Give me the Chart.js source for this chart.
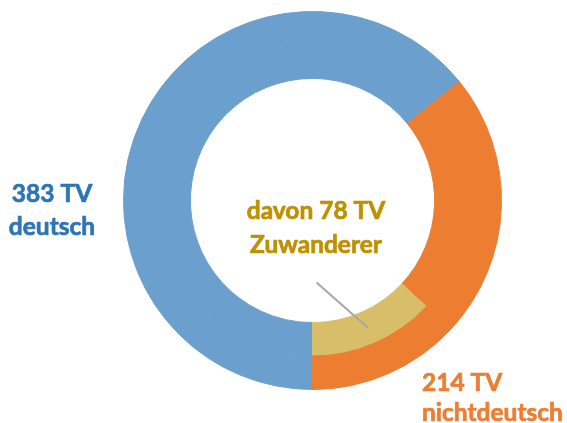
<!DOCTYPE html>
<html>
<head>
<meta charset="utf-8">
<script src="https://cdn.jsdelivr.net/npm/chart.js@4"></script>
<style>
html,body{margin:0;padding:0;background:#fff;}
#c{display:block;}
</style>
</head>
<body>
<canvas id="c" width="567" height="423"></canvas>
<script>
// Data
const categories = ["deutsch", "nichtdeutsch (ohne Zuwanderer)", "Zuwanderer"];
const outerValues = [383, 136, 78];   // outer ring: 383 deutsch, 214 nichtdeutsch (136 + 78)
const innerValues = [383, 136, 78];   // inner ring: same split, Zuwanderer highlighted
const outerColors = ["#6A9FCE", "#ED7D31", "#ED7D31"];
const innerColors = ["#6A9FCE", "#ED7D31", "#D8BE68"];
const labelDeutsch = ["383 TV", "deutsch"];
const labelZuwanderer = ["davon 78 TV", "Zuwanderer"];
const labelNichtdeutsch = ["214 TV", "nichtdeutsch"];

const FONT = "bold 24.5px Lato, 'Open Sans', sans-serif";

function boldText(ctx, text, x, y, color) {
  ctx.fillStyle = color;
  ctx.strokeStyle = color;
  ctx.lineWidth = 0.7;
  ctx.lineJoin = "round";
  ctx.fillText(text, x, y);
  ctx.strokeText(text, x, y);
}

const annotations = {
  id: "annotations",
  afterDraw(chart) {
    const ctx = chart.ctx;
    const meta = chart.getDatasetMeta(1);
    const arc = meta.data[2];
    ctx.save();
    const midAngle = (arc.startAngle + arc.endAngle) / 2;
    const r = (arc.innerRadius + arc.outerRadius) / 2;
    const x1 = arc.x + Math.cos(midAngle) * r;
    const y1 = arc.y + Math.sin(midAngle) * r;
    ctx.strokeStyle = "#A6A6A6";
    ctx.lineWidth = 2;
    ctx.beginPath();
    ctx.moveTo(x1, y1);
    ctx.lineTo(arc.x + 4, arc.y + 82);
    ctx.stroke();

    ctx.font = FONT;
    ctx.textBaseline = "alphabetic";
    ctx.textAlign = "center";
    boldText(ctx, labelDeutsch[0], 52, 202, "#2E75B6");
    boldText(ctx, labelDeutsch[1], 52, 235, "#2E75B6");
    boldText(ctx, labelZuwanderer[0], 316, 219, "#BF9000");
    boldText(ctx, labelZuwanderer[1], 316, 253, "#BF9000");
    ctx.textAlign = "left";
    boldText(ctx, labelNichtdeutsch[0], 422, 391, "#ED7D31");
    boldText(ctx, labelNichtdeutsch[1], 422, 421, "#ED7D31");
    ctx.restore();
  }
};

new Chart(document.getElementById("c"), {
  type: "doughnut",
  data: {
    labels: categories,
    datasets: [
      { data: outerValues, backgroundColor: outerColors, borderColor: outerColors, borderWidth: 1, borderAlign: "center" },
      { data: innerValues, backgroundColor: innerColors, borderColor: innerColors, borderWidth: 1, borderAlign: "center" }
    ]
  },
  options: {
    responsive: false,
    animation: false,
    rotation: 180,
    cutout: "64.6%",
    layout: { padding: { left: 58, right: 0, top: 11, bottom: 33 } },
    plugins: { legend: { display: false }, tooltip: { enabled: false } }
  },
  plugins: [annotations]
});
</script>
</body>
</html>
